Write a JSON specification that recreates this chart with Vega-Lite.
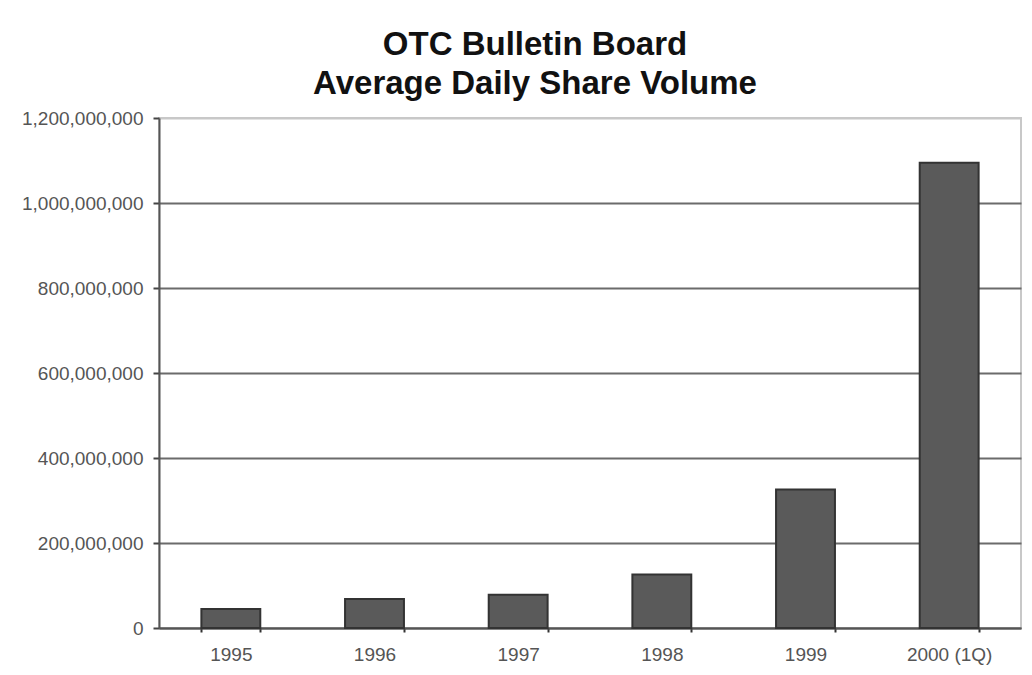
{
  "$schema": "https://vega.github.io/schema/vega-lite/v6.json",
  "autosize": {"type": "none"},
  "padding": {"left": 159, "top": 118, "right": 11, "bottom": 47},
  "width": 862,
  "height": 510,
  "background": "white",
  "title": {
    "text": ["OTC Bulletin Board", "Average Daily Share Volume"],
    "font": "Liberation Sans",
    "fontSize": 33,
    "fontWeight": "bold",
    "color": "#111111",
    "anchor": "middle",
    "dx": -55,
    "lineHeight": 39,
    "offset": 8
  },
  "data": {
    "values": [
      {"period": "1995", "volume": 45000000},
      {"period": "1996", "volume": 68000000},
      {"period": "1997", "volume": 78000000},
      {"period": "1998", "volume": 126000000},
      {"period": "1999", "volume": 326000000},
      {"period": "2000 (1Q)", "volume": 1095000000}
    ]
  },
  "mark": {"type": "bar", "fill": "#5a5a5a", "stroke": "#333333", "strokeWidth": 2},
  "encoding": {
    "x": {
      "field": "period",
      "type": "nominal",
      "sort": null,
      "scale": {"paddingInner": 0.59, "paddingOuter": 0.295},
      "axis": {
        "title": null,
        "labelAngle": 0,
        "labelFont": "Liberation Sans",
        "labelFontSize": 19,
        "labelColor": "#555555",
        "labelPadding": 13,
        "tickBand": "extent",
        "tickSize": 4,
        "tickColor": "#333333",
        "tickWidth": 2,
        "domainColor": "#555555",
        "domainWidth": 2
      }
    },
    "y": {
      "field": "volume",
      "type": "quantitative",
      "scale": {"domain": [0, 1200000000], "nice": false},
      "axis": {
        "title": null,
        "values": [0, 200000000, 400000000, 600000000, 800000000, 1000000000, 1200000000],
        "format": ",d",
        "labelFont": "Liberation Sans",
        "labelFontSize": 19,
        "labelColor": "#555555",
        "labelPadding": 10,
        "tickSize": 6,
        "tickColor": "#444444",
        "tickWidth": 2,
        "domainColor": "#555555",
        "domainWidth": 2,
        "grid": true,
        "gridWidth": 2,
        "gridColor": {"condition": {"test": "datum.value >= 1200000000", "value": "#c8c8c8"}, "value": "#6b6b6b"}
      }
    }
  },
  "config": {
    "view": {"stroke": "#c8c8c8", "strokeWidth": 2}
  }
}
